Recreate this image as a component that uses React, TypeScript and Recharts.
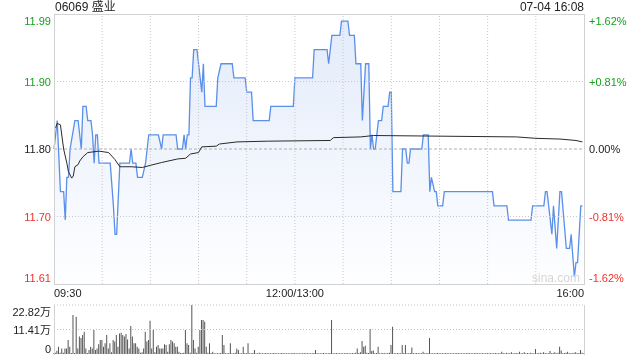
import React from 'react';
import { ComposedChart, Area, Line, Bar, XAxis, YAxis, ReferenceLine } from 'recharts';

const TITLE = '06069 盛业';
const STAMP = '07-04 16:08';
const PREV_CLOSE = 11.8;

// minutes since 09:30 with the lunch break removed (0..330)
const priceMinutes = [
    0, 2, 4, 6, 7, 8, 9, 10, 13, 15, 16, 17, 18, 20, 21, 23, 24, 25, 26, 27, 28, 35, 37, 38, 39, 41,
    47, 48, 49, 51, 52, 55, 57, 59, 65, 67, 68, 76, 77, 80, 81, 82, 83, 84, 85, 86, 87, 89, 91, 92,
    93, 94, 101, 102, 104, 111, 112, 119, 120, 123, 124, 134, 135, 149, 150, 161, 162, 170, 171, 173,
    178, 179, 183, 184, 187, 188, 191, 192, 194, 196, 197, 198, 199, 200, 202, 204, 205, 208, 209, 210,
    211, 216, 217, 219, 220, 221, 222, 229, 230, 233, 234, 235, 237, 238, 239, 242, 243, 273, 274, 282,
    283, 297, 298, 305, 306, 307, 310, 311, 313, 315, 316, 319, 321, 322, 324, 325, 326, 328, 329,
];
const priceValues = [
    11.80, 11.84, 11.74, 11.74, 11.70, 11.76, 11.76, 11.80, 11.84, 11.84, 11.82, 11.80, 11.86, 11.86, 11.84, 11.84, 11.82, 11.78, 11.82, 11.82, 11.78, 11.78, 11.72, 11.68, 11.68, 11.78,
    11.78, 11.80, 11.78, 11.78, 11.76, 11.76, 11.78, 11.82, 11.82, 11.80, 11.82, 11.82, 11.80, 11.80, 11.82, 11.80, 11.82, 11.82, 11.90, 11.90, 11.94, 11.94, 11.90, 11.88,
    11.92, 11.86, 11.86, 11.90, 11.92, 11.92, 11.90, 11.90, 11.88, 11.88, 11.84, 11.84, 11.86, 11.86, 11.90, 11.90, 11.94, 11.94, 11.92, 11.96,
    11.96, 11.98, 11.98, 11.96, 11.96, 11.92, 11.92, 11.84, 11.92, 11.92, 11.80, 11.82, 11.80, 11.80, 11.84, 11.84, 11.86, 11.86, 11.88, 11.88,
    11.74, 11.74, 11.80, 11.80, 11.78, 11.78, 11.80, 11.80, 11.82, 11.82, 11.74, 11.76, 11.74, 11.74, 11.72, 11.72, 11.74, 11.74, 11.72, 11.72,
    11.70, 11.70, 11.72, 11.72, 11.74, 11.74, 11.68, 11.72, 11.66, 11.74, 11.74, 11.66, 11.66, 11.68, 11.62, 11.64, 11.64, 11.72, 11.72,
];

const avgMinutes = [
    1, 2, 4, 6, 8, 9, 11, 12, 13, 15, 16, 18, 21, 28, 34, 38, 41, 48, 55, 60, 67, 77, 82, 85, 90, 92,
    101, 103, 114, 133, 172, 174, 191, 199, 288, 300, 315, 325, 329,
];
const avgValues = [
    11.830, 11.836, 11.834, 11.800, 11.780, 11.768, 11.759, 11.762, 11.775, 11.778, 11.783, 11.789, 11.795, 11.797, 11.795, 11.785, 11.775, 11.775, 11.774, 11.777, 11.781, 11.786, 11.787, 11.793, 11.795, 11.803,
    11.804, 11.807, 11.810, 11.811, 11.812, 11.816, 11.817, 11.819, 11.817, 11.815, 11.814, 11.812, 11.810,
];

// per-minute volume, in 万 shares
const volumes = [
    0.3, 0.6, 1.5, 3.4, 0.6, 2.6, 0.6, 2.6, 2.6, 6.5,
    3.4, 0.5, 18.2, 0.5, 17.4, 2.6, 8.1, 7.5, 8.9, 10.4,
    2.6, 0.5, 1.9, 3.4, 2.6, 11.2, 1.9, 2.6, 4.5, 6.5,
    6.5, 3.4, 5.0, 8.9, 2.6, 5.0, 0.8, 6.5, 5.8, 8.9,
    3.4, 9.6, 9.9, 8.9, 8.1, 9.3, 6.8, 2.6, 13.0, 8.1,
    5.0, 5.0, 3.4, 2.6, 0.6, 0.8, 2.6, 10.4, 5.8, 6.5,
    15.5, 2.6, 11.2, 0.8, 3.4, 4.2, 2.6, 2.6, 2.6, 4.5,
    4.2, 1.0, 4.5, 6.5, 5.8, 5.0, 3.4, 3.4, 1.1, 0.5,
    0.5, 0.6, 11.2, 5.0, 4.2, 0.6, 22.8, 6.5, 2.6, 0.6,
    3.4, 11.2, 15.8, 15.8, 15.0, 3.4, 0.6, 5.0, 0.5, 1.1,
    0.4, 0.3, 0.4, 0.3, 0.5, 8.9, 4.2, 0.4, 0.3, 0.5,
    5.0, 0.4, 0.3, 0.6, 2.6, 1.9, 0.4, 0.3, 3.4, 0.5,
    0.4, 5.0, 0.4, 0.3, 0.5, 1.9, 0.4, 0.3, 0.6, 0.3,
    0.4, 0.3, 0.5, 0.3, 0.4, 0.3, 0.3, 0.5, 0.4, 0.3,
    0.3, 0.4, 0.5, 0.3, 0.4, 0.3, 0.3, 0.4, 0.3, 0.5,
    0.4, 0.3, 0.3, 0.4, 0.3, 0.3, 0.5, 0.4, 0.3, 0.3,
    0.4, 0.3, 0.5, 1.9, 0.4, 0.3, 0.3, 0.4, 0.5, 0.3,
    0.4, 0.3, 0.5, 15.8, 0.4, 0.3, 0.5, 0.4, 0.3, 0.4,
    0.3, 0.4, 0.5, 0.3, 0.4, 0.3, 0.5, 0.4, 0.6, 2.6,
    0.5, 0.8, 6.1, 3.4, 3.9, 0.6, 0.5, 11.6, 1.4, 1.6,
    0.4, 0.5, 3.4, 0.4, 0.3, 0.5, 0.4, 0.3, 0.5, 0.6,
    4.2, 12.7, 0.4, 0.3, 0.5, 0.4, 0.3, 4.2, 0.5, 4.2,
    0.4, 0.3, 0.5, 3.0, 0.4, 0.3, 0.5, 0.4, 0.3, 0.4,
    1.1, 0.4, 0.3, 0.5, 7.5, 0.4, 0.3, 0.4, 0.3, 0.5,
    0.4, 0.3, 0.3, 0.4, 0.5, 0.3, 0.4, 0.3, 0.3, 0.4,
    0.3, 0.5, 0.4, 0.3, 0.3, 0.4, 0.3, 0.4, 0.5, 0.3,
    0.4, 0.3, 0.3, 0.5, 0.4, 0.3, 0.4, 0.3, 0.3, 0.4,
    0.5, 0.3, 0.4, 0.3, 0.4, 0.5, 0.3, 0.4, 0.3, 1.1,
    0.4, 0.3, 0.6, 0.4, 0.3, 0.8, 0.4, 0.3, 0.5, 0.4,
    1.1, 0.4, 0.3, 0.8, 0.4, 0.5, 0.3, 0.6, 0.4, 0.3,
    2.3, 0.4, 0.3, 0.6, 0.4, 0.8, 0.5, 0.4, 0.3, 1.4,
    0.4, 0.5, 0.8, 0.4, 0.6, 3.4, 1.6, 0.4, 0.5, 0.6,
    1.1, 0.4, 0.5, 0.3, 0.6, 0.8, 0.4, 0.5, 1.9, 0.6,
    0.4,
];

const priceTicks = [11.61, 11.705, 11.8, 11.895, 11.99];
const priceTickLabels = ['11.61', '11.70', '11.80', '11.90', '11.99'];
const pctTickLabels = ['-1.62%', '-0.81%', '0.00%', '+0.81%', '+1.62%'];
const timeTicks = [0, 150, 330];
const timeLabels = ['09:30', '12:00/13:00', '16:00'];
const gridMinutes = [30, 60, 90, 120, 150, 180, 210, 240, 270, 300];
const volTicks = [0, 11.41, 22.82];
const volTickLabels = ['0', '11.41万', '22.82万'];

const FONT = '"Liberation Sans", Arial, "Noto Sans CJK SC", sans-serif';
const GREEN = '#15a21a';
const RED = '#f0302a';

const priceRows = (() => {
    const rows = new Map<number, any>();
    priceMinutes.forEach((m, i) => rows.set(m, { ...(rows.get(m) || { m }), price: priceValues[i] }));
    avgMinutes.forEach((m, i) => rows.set(m, { ...(rows.get(m) || { m }), avg: avgValues[i] }));
    return [...rows.values()].sort((a, b) => a.m - b.m);
})();

const volRows = volumes.map((v, i) => ({ m: i, vol: v }));

const tickIndex = (v: number) => priceTicks.findIndex((t) => Math.abs(t - v) < 1e-6);
const tickColor = (v: number) => (v > PREV_CLOSE + 1e-6 ? GREEN : v < PREV_CLOSE - 1e-6 ? RED : '#222');
const edgeShift = (i: number) => (i === 0 ? -6 : i === priceTicks.length - 1 ? 6.5 : 0);

const PriceTick = (props: any) => {
    const i = tickIndex(props.payload.value);
    return (
        <text x={51} y={props.y + edgeShift(i)} textAnchor="end" dominantBaseline="central"
            fontSize={11} fontFamily={FONT} fill={tickColor(props.payload.value)}>
            {priceTickLabels[i]}
        </text>
    );
};

const PctTick = (props: any) => {
    const i = tickIndex(props.payload.value);
    return (
        <text x={589} y={props.y + edgeShift(i)} textAnchor="start" dominantBaseline="central"
            fontSize={11} fontFamily={FONT} fill={tickColor(props.payload.value)}>
            {pctTickLabels[i]}
        </text>
    );
};

const TimeTick = (props: any) => {
    const i = timeTicks.indexOf(props.payload.value);
    const anchor = i === 0 ? 'start' : i === timeTicks.length - 1 ? 'end' : 'middle';
    return (
        <text x={props.x} y={props.y} dy={5} textAnchor={anchor} fontSize={11} fontFamily={FONT} fill="#222">
            {timeLabels[i]}
        </text>
    );
};

const VolTick = (props: any) => {
    const i = volTicks.findIndex((t) => Math.abs(t - props.payload.value) < 1e-6);
    const shift = i === 0 ? -5 : i === volTicks.length - 1 ? 7 : 0;
    return (
        <text x={51} y={props.y + shift} textAnchor="end" dominantBaseline="central"
            fontSize={11} fontFamily={FONT} fill="#222">
            {volTickLabels[i]}
        </text>
    );
};

export default function App() {
    return (
        <div style={{ position: 'fixed', left: 0, top: 0, width: 640, height: 360, background: '#fff', fontFamily: FONT }}>
            <div style={{ position: 'absolute', left: 55, top: 0, fontSize: 12, lineHeight: '15px', color: '#222' }}>{TITLE}</div>
            <div style={{ position: 'absolute', right: 56, top: 0, fontSize: 12, lineHeight: '15px', color: '#222' }}>{STAMP}</div>

            <div style={{ position: 'absolute', left: 0, top: 0 }}>
                <ComposedChart width={640} height={300} data={priceRows} margin={{ top: 14, right: 0, bottom: 0, left: 0 }}>
                    <defs>
                        <linearGradient id="priceFill" x1="0" y1="0" x2="0" y2="1">
                            <stop offset="0%" stopColor="#3a78e0" stopOpacity={0.24} />
                            <stop offset="100%" stopColor="#3a78e0" stopOpacity={0.01} />
                        </linearGradient>
                    </defs>
                    <XAxis dataKey="m" type="number" domain={[0, 330]} ticks={timeTicks} interval={0}
                        height={16} axisLine={false} tickLine={false} tick={<TimeTick />} />
                    <YAxis yAxisId="left" domain={[11.61, 11.99]} ticks={priceTicks} interval={0} width={54}
                        axisLine={false} tickLine={false} tick={<PriceTick />} allowDataOverflow />
                    <YAxis yAxisId="pct" orientation="right" domain={[11.61, 11.99]} ticks={priceTicks} interval={0} width={56}
                        axisLine={false} tickLine={false} tick={<PctTick />} allowDataOverflow />
                    {gridMinutes.map((m) => (
                        <ReferenceLine key={m} yAxisId="left" x={m} stroke="#c8c8c8" strokeDasharray="1 2" />
                    ))}
                    <ReferenceLine yAxisId="left" y={priceTicks[3]} stroke="#c8c8c8" strokeDasharray="1 2" />
                    <ReferenceLine yAxisId="left" y={priceTicks[1]} stroke="#c8c8c8" strokeDasharray="1 2" />
                    <ReferenceLine yAxisId="left" y={PREV_CLOSE} stroke="#b0b0b0" strokeDasharray="3 2" />
                    <Area yAxisId="left" type="linear" dataKey="price" stroke="#5a8fea" strokeWidth={1.3}
                        fill="url(#priceFill)" connectNulls isAnimationActive={false} dot={false} activeDot={false} />
                    <Line yAxisId="left" type="linear" dataKey="avg" stroke="#2a2a2a" strokeWidth={1}
                        connectNulls isAnimationActive={false} dot={false} activeDot={false} />
                </ComposedChart>
            </div>
            <div style={{ position: 'absolute', left: 54, top: 14, width: 531, height: 271, boxSizing: 'border-box', border: '1px solid #d2d2d2' }} />
            <div style={{ position: 'absolute', left: 532, top: 271, fontSize: 12, color: '#d6d6d6' }}>sina.com</div>

            <div style={{ position: 'absolute', left: 0, top: 300 }}>
                <ComposedChart width={640} height={60} data={volRows} margin={{ top: 5, right: 56, bottom: 6, left: 0 }}>
                    <XAxis dataKey="m" type="number" domain={[0, 330]} hide />
                    <YAxis domain={[0, 22.82]} ticks={volTicks} interval={0} width={54}
                        axisLine={false} tickLine={false} tick={<VolTick />} allowDataOverflow />
                    <ReferenceLine y={22.82} stroke="#c0c0c0" strokeDasharray="1 2" />
                    <ReferenceLine y={11.41} stroke="#c0c0c0" strokeDasharray="1 2" />
                    <Bar dataKey="vol" fill="#555" barSize={1} isAnimationActive={false} />
                </ComposedChart>
            </div>
            <div style={{ position: 'absolute', left: 54, top: 305, width: 531, height: 50, boxSizing: 'border-box', borderLeft: '1px solid #d2d2d2', borderRight: '1px solid #d2d2d2' }} />
        </div>
    );
}
